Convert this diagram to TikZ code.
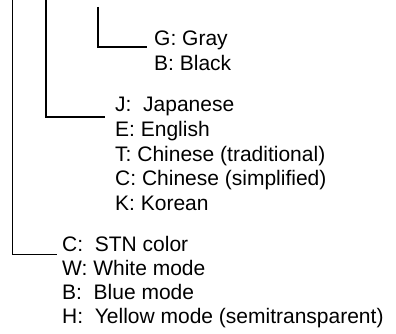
\documentclass[tikz,border=0pt]{standalone}
\usepackage{fontspec}
\setmainfont{Liberation Sans}

\tikzset{
    code/.style={anchor=base west, inner sep=0pt, font=\fontsize{21}{24}\selectfont},
    bracket/.style={black, line width=1.5pt}
}

\begin{document}
\begin{tikzpicture}[x=1pt, y=-1pt]

    \useasboundingbox (0,0) rectangle (396,334);

    % bracket tops
    \coordinate (top1) at (12,0);
    \coordinate (top2) at (46,0);
    \coordinate (top3) at (98,7);

    % add labels
    \node[code] (gray) at (154,46) {G: Gray};
    \node[code] (black) at (154,71) {B: Black};

    \node[code] (japanese) at (115,112) {J:\ \ Japanese};
    \node[code] (english) at (115,136) {E: English};
    \node[code] (trad) at (115,161) {T: Chinese (traditional)};
    \node[code] (simp) at (115,185) {C: Chinese (simplified)};
    \node[code] (korean) at (115,210) {K: Korean};

    \node[code] (stn) at (62,251) {C:\ \ STN color};
    \node[code] (white) at (62,275) {W: White mode};
    \node[code] (blue) at (62,299) {B:\ \ Blue mode};
    \node[code] (yellow) at (62,323) {H:\ \ Yellow mode (semitransparent)};

    % draw brackets
    \draw[bracket, line width=1pt] (top1) |- ([xshift=-5pt, yshift=-3pt]stn.base west);
    \draw[bracket, line width=2pt] (top2) |- ([xshift=-10pt, yshift=-5pt]japanese.base west);
    \draw[bracket] (top3) |- ([xshift=-7pt, yshift=-1pt]gray.base west);

\end{tikzpicture}
\end{document}
